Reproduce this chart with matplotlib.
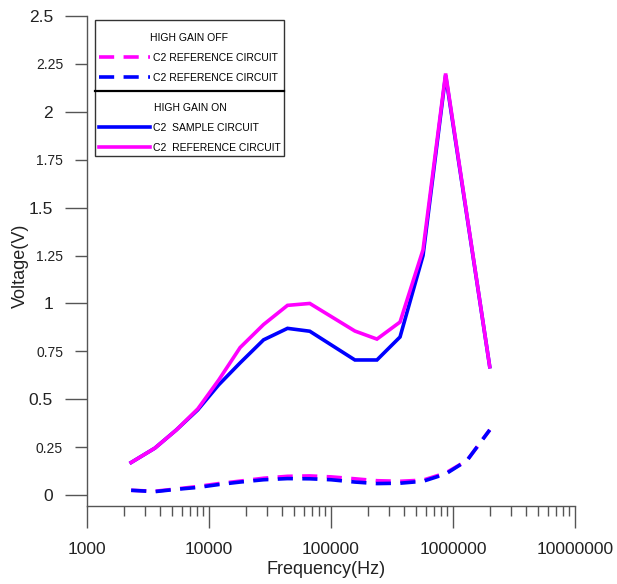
import matplotlib
matplotlib.use("Agg")
import matplotlib.pyplot as plt
from matplotlib import font_manager
from matplotlib.patches import Rectangle
from matplotlib.lines import Line2D
from matplotlib.ticker import FixedLocator, FuncFormatter, LogLocator, NullFormatter

# frequencies (Hz) for each trace type
freq_on = [2300, 3600, 5400, 8100, 12000, 18000, 28000, 44000, 67000,
           157000, 238000, 368000, 568000, 870000, 2000000]
freq_off = [2300, 3600, 5400, 8100, 12000, 18000, 28000, 44000, 67000, 100000,
            157000, 238000, 368000, 568000, 870000, 1300000, 2000000]

# high gain on (solid)
on_sample = [0.17, 0.245, 0.34, 0.445, 0.575, 0.69, 0.81, 0.87, 0.855,
             0.705, 0.705, 0.825, 1.25, 2.19, 0.67]
on_reference = [0.17, 0.245, 0.34, 0.45, 0.60, 0.77, 0.89, 0.99, 1.0,
                0.856, 0.814, 0.903, 1.28, 2.2, 0.67]

# high gain off (dashed)
off_reference_m = [0.025, 0.02, 0.032, 0.045, 0.06, 0.073, 0.088, 0.098, 0.10, 0.095,
                   0.085, 0.075, 0.072, 0.078, 0.115, 0.18, 0.34]
off_reference_b = [0.025, 0.018, 0.03, 0.04, 0.055, 0.068, 0.08, 0.086, 0.085, 0.08,
                   0.068, 0.06, 0.062, 0.072, 0.11, 0.18, 0.34]

y_major = [0, 0.5, 1, 1.5, 2, 2.5]
y_minor = [0.25, 0.75, 1.25, 1.75, 2.25]

MAGENTA = "#FF00FF"
BLUE = "#0000FF"
AXIS = "#555555"


def pick_font(name, fallback):
    try:
        font_manager.findfont(name, fallback_to_default=False)
        return name
    except Exception:
        return fallback


main_font = pick_font("Liberation Sans", "DejaVu Sans")
plt.rcParams["font.family"] = [main_font, "DejaVu Sans"]

W, H = 617, 584
fig = plt.figure(figsize=(W / 100, H / 100), dpi=100)
# axes box in pixels: left 87, right 575, top 16, bottom 506
ax = fig.add_axes([87 / W, (H - 506) / H, 488 / W, 490 / H])


def ax_frac(px, py):
    # pixel position (from top-left) -> axes fraction
    return (px - 87) / 488, (506 - py) / 490


lw = 2.6
dash = (4.2, 2.6)
l_off_m, = ax.plot(freq_off, off_reference_m, color=MAGENTA, lw=lw, dashes=dash)
l_off_b, = ax.plot(freq_off, off_reference_b, color=BLUE, lw=lw, dashes=dash)
l_on_s, = ax.plot(freq_on, on_sample, color=BLUE, lw=lw, solid_joinstyle="miter")
l_on_r, = ax.plot(freq_on, on_reference, color=MAGENTA, lw=lw, solid_joinstyle="miter")

ax.set_xscale("log")
ax.set_xlim(1000, 1e7)
ax.set_ylim(-0.057, 2.5)

ax.xaxis.set_major_locator(LogLocator(base=10, numticks=10))
ax.xaxis.set_major_formatter(FuncFormatter(lambda v, p: f"{int(round(v))}"))
ax.xaxis.set_minor_locator(LogLocator(base=10, subs=range(2, 10), numticks=20))
ax.xaxis.set_minor_formatter(NullFormatter())

ax.yaxis.set_major_locator(FixedLocator(y_major))
ax.yaxis.set_minor_locator(FixedLocator(y_minor))
fmt = FuncFormatter(lambda v, p: f"{v:g}")
ax.yaxis.set_major_formatter(fmt)
ax.yaxis.set_minor_formatter(fmt)

for s in ["top", "right"]:
    ax.spines[s].set_visible(False)
for s in ["left", "bottom"]:
    ax.spines[s].set_color(AXIS)
    ax.spines[s].set_linewidth(1.0)

ax.tick_params(axis="both", which="both", direction="out", color=AXIS, width=1.0,
               labelcolor="#222222")
ax.tick_params(axis="x", which="major", length=15.8, pad=10, labelsize=12.5)
ax.tick_params(axis="x", which="minor", length=7.2)
ax.tick_params(axis="y", which="major", length=15.8, pad=8.6, labelsize=12.5)
ax.tick_params(axis="y", which="minor", length=8.6, pad=8.6, labelsize=10)

ax.set_xlabel("Frequency(Hz)", fontsize=13, color="#222222")
ax.set_ylabel("Voltage(V)", fontsize=13, color="#222222")
ax.xaxis.set_label_coords(0.49, -0.113)
ax.yaxis.set_label_coords(-0.12, 0.49)

# legend box with a divider between the two groups
bx0, by0 = ax_frac(95, 156)
bx1, by1 = ax_frac(284, 20)
ax.add_patch(Rectangle((bx0, by0), bx1 - bx0, by1 - by0, transform=ax.transAxes,
                       facecolor="white", edgecolor="#333333", lw=1.0, zorder=4))
_, dy = ax_frac(0, 91)
ax.add_line(Line2D([bx0, bx1], [dy, dy], transform=ax.transAxes, color="black",
                   lw=1.6, zorder=4))

leg_kw = dict(loc="upper left", frameon=False, borderaxespad=0, borderpad=0,
              handlelength=4.9, handletextpad=0.3, labelspacing=0.95,
              prop={"size": 7.5}, title_fontproperties={"size": 7.5})

leg1 = ax.legend([l_off_m, l_off_b], ["C2 REFERENCE CIRCUIT", "C2 REFERENCE CIRCUIT"],
                 title="HIGH GAIN OFF", bbox_to_anchor=ax_frac(99, 33), **leg_kw)
leg1.set_zorder(5)
ax.add_artist(leg1)
leg2 = ax.legend([l_on_s, l_on_r], ["C2  SAMPLE CIRCUIT", "C2  REFERENCE CIRCUIT"],
                 title="HIGH GAIN ON", bbox_to_anchor=ax_frac(99, 103), **leg_kw)
leg2.set_zorder(5)

fig.savefig("out.png", dpi=100)
